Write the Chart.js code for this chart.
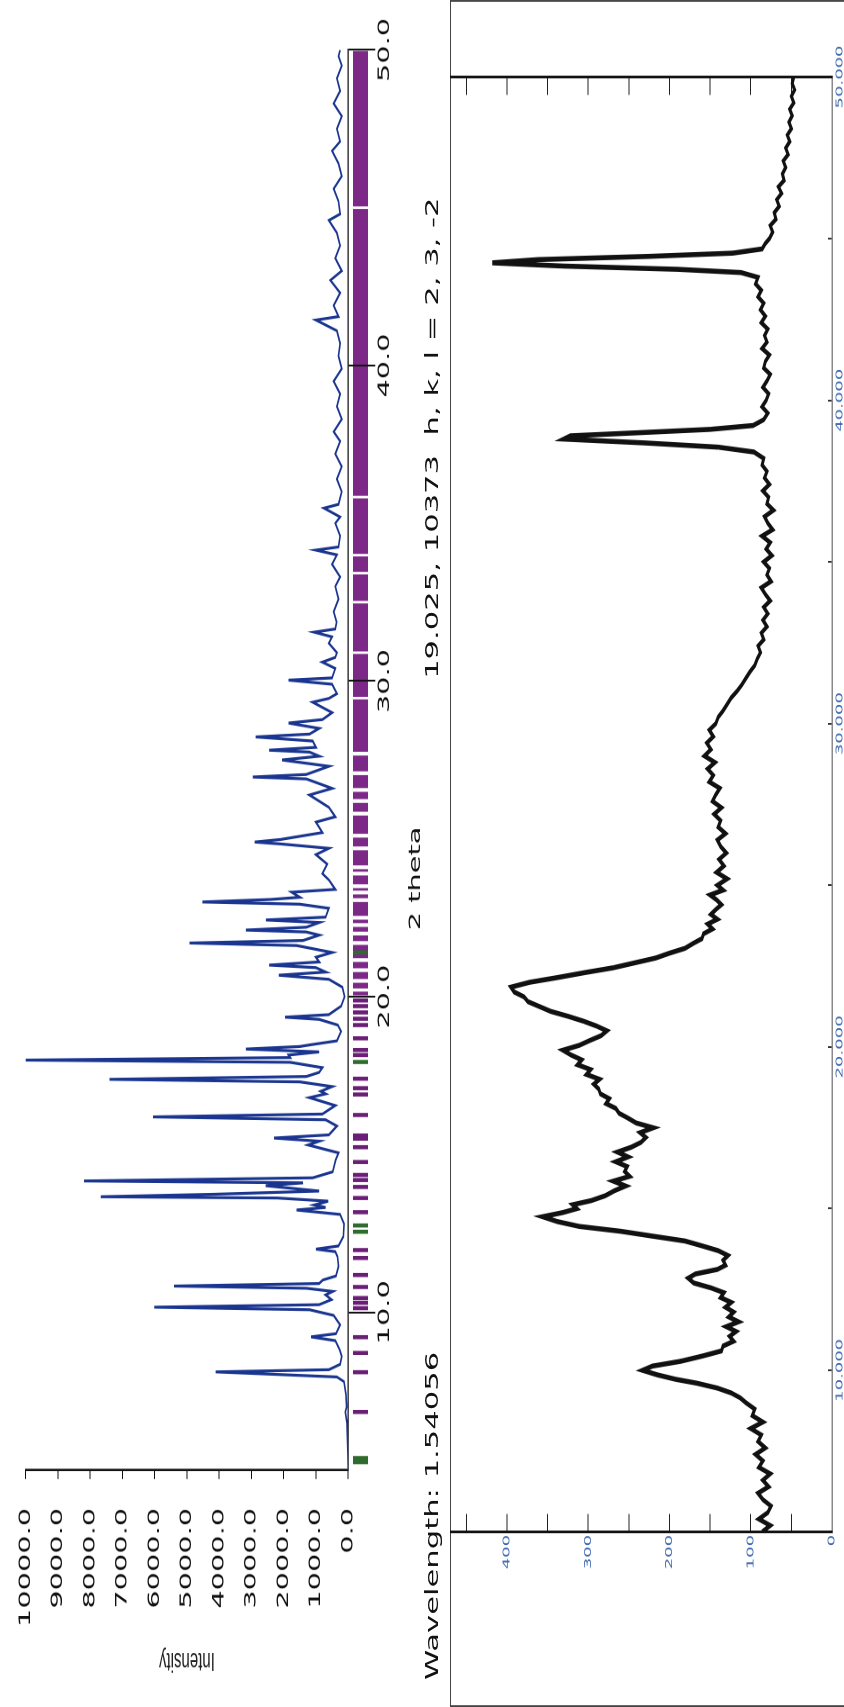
<!DOCTYPE html>
<html lang="en">
<head>
<meta charset="UTF-8">
<script src="https://cdn.jsdelivr.net/npm/chart.js"></script>
<style>
    html, body { margin: 0; padding: 0; background: #fff; }
    body { width: 844px; height: 1707px; overflow: hidden; position: relative; }
    /* the whole sheet is laid out landscape, stretched and turned on its side */
    #sheet {
        position: absolute; left: 0; top: 0;
        width: 948px; height: 844px;
        overflow: hidden;
        transform-origin: 0 0;
        transform: translate(0, 1707px) rotate(-90deg) scaleX(1.8006);
    }
    .panel { position: absolute; left: 0; }
    .panel canvas { display: block; }
    .status {
        position: absolute; top: 424px;
        font: 17px 'DejaVu Sans', sans-serif; line-height: 17px;
        color: #111; white-space: pre;
    }
    #frame {
        position: absolute; left: 0; top: 450px;
        width: 948px; height: 420px; box-sizing: border-box;
        border: 1.6px solid #444; border-bottom: none;
    }
</style>
</head>
<body>
<div id="sheet">
    <div class="panel" style="top:353px"><canvas id="hklStrip" width="948" height="15"></canvas></div>
    <div class="panel" style="top:0"><canvas id="calcChart" width="948" height="448"></canvas></div>
    <div class="status" style="left:15px">Wavelength: 1.54056</div>
    <div class="status" style="left:571px">19.025, 10373  h, k, l = 2, 3, -2</div>
    <div id="frame"></div>
    <div class="panel" style="top:450px"><canvas id="obsChart" width="948" height="394"></canvas></div>
</div>

<script>
// calculated powder pattern: 2theta (deg) and intensity
const calcTheta = [5.00, 5.50, 6.00, 6.50, 6.84, 7.00, 7.40, 7.80, 7.95, 8.04, 8.11, 8.18, 8.35, 8.60, 8.80, 9.10, 9.22, 9.32, 9.60, 9.90,
    10.08, 10.16, 10.24, 10.40, 10.55, 10.66, 10.76, 10.83, 10.91, 11.02, 11.15, 11.45, 11.76, 11.92, 12.00, 12.10, 12.40, 12.80, 13.10, 13.24,
    13.32, 13.40, 13.52, 13.62, 13.66, 13.74, 13.84, 14.01, 14.10, 14.16, 14.26, 14.45, 14.82, 15.05, 15.30, 15.42, 15.52, 15.62, 15.90, 16.10,
    16.19, 16.28, 16.55, 16.80, 16.92, 17.00, 17.15, 17.30, 17.38, 17.47, 17.60, 17.75, 17.92, 17.99, 18.07, 18.15, 18.25, 18.34, 18.42, 18.47,
    18.60, 18.90, 19.10, 19.28, 19.35, 19.43, 19.70, 20.00, 20.30, 20.55, 20.68, 20.78, 20.92, 21.00, 21.10, 21.25, 21.40, 21.62, 21.70, 21.78,
    21.95, 22.05, 22.11, 22.20, 22.35, 22.43, 22.52, 22.80, 22.93, 23.00, 23.08, 23.15, 23.31, 23.40, 23.70, 23.90, 24.20, 24.50, 24.70, 24.84,
    24.90, 24.98, 25.20, 25.53, 25.70, 26.00, 26.39, 26.60, 26.90, 26.96, 27.04, 27.30, 27.50, 27.62, 27.75, 27.81, 27.90, 28.10, 28.23, 28.32,
    28.50, 28.67, 28.78, 29.00, 29.33, 29.45, 29.60, 29.90, 30.03, 30.10, 30.40, 30.60, 30.75, 30.90, 31.20, 31.40, 31.55, 31.65, 31.87, 32.20,
    32.60, 33.00, 33.30, 33.70, 34.00, 34.15, 34.25, 34.60, 35.00, 35.20, 35.48, 35.60, 36.00, 36.40, 36.80, 37.20, 37.60, 37.90, 38.30, 38.70,
    39.10, 39.50, 39.90, 40.30, 40.70, 41.10, 41.44, 41.55, 41.90, 42.30, 42.70, 43.00, 43.40, 43.80, 44.20, 44.60, 44.80, 45.20, 45.60, 46.00,
    46.40, 46.80, 47.10, 47.50, 47.90, 48.30, 48.70, 49.10, 49.50, 49.80, 50.00];
const calcCounts = [0, 10, 25, 40, 90, 50, 70, 130, 350, 2450, 4110, 600, 250, 200, 260, 400, 1150, 380, 250, 450,
    1200, 6010, 900, 520, 700, 480, 1300, 5400, 900, 790, 380, 300, 330, 400, 1000, 300, 150, 130, 250, 1600,
    700, 1050, 620, 2200, 7670, 4110, 900, 2560, 1400, 8190, 1100, 480, 390, 300, 1240, 900, 2300, 600, 350, 700,
    6050, 800, 400, 1200, 700, 850, 500, 1500, 7400, 1300, 900, 800, 1800, 10000, 1800, 1850, 900, 3170, 1500, 1200,
    350, 220, 320, 900, 1960, 600, 220, 110, 180, 600, 2150, 700, 1000, 2450, 900, 1000, 500, 1600, 4920, 1400,
    900, 1300, 3170, 1300, 900, 2550, 700, 600, 1500, 4520, 2400, 1500, 1750, 400, 600, 800, 650, 1000, 600, 2100,
    2900, 2100, 800, 1000, 400, 600, 1200, 500, 1300, 2960, 1300, 600, 2050, 900, 1200, 2450, 1000, 1100, 2870, 1200,
    900, 1850, 800, 500, 1100, 600, 350, 500, 1850, 500, 400, 800, 400, 350, 600, 500, 1050, 400, 360, 450,
    300, 400, 250, 500, 350, 1000, 300, 250, 400, 250, 750, 300, 200, 350, 200, 400, 250, 450, 200, 350,
    250, 450, 200, 300, 250, 350, 1000, 300, 450, 250, 550, 200, 400, 250, 350, 600, 250, 300, 450, 200,
    300, 500, 250, 350, 200, 450, 250, 350, 200, 300, 250];

// reflection positions (2theta) shown in the strip under the axis
const hklPurple = [6.84, 8.10, 8.71, 9.21, 10.13, 10.30, 10.45, 10.80, 11.18, 11.72, 11.97, 13.17, 13.62, 13.97, 14.19, 14.35,
    14.76, 15.23, 15.50, 15.60, 16.25, 16.90, 17.10, 17.40, 18.15, 18.31, 18.68, 19.10, 19.30, 19.50, 19.70, 19.88];
const hklGreen = [5.25, 5.38, 12.55, 12.75, 17.93, 21.40];
// runs where reflections overlap into a solid band
const hklBands = [[20.04, 20.16], [20.26, 20.44], [20.56, 20.78], [20.90, 21.10], [21.22, 21.64], [21.76, 21.94], [22.06, 22.21],
    [22.33, 22.44], [22.56, 23.00], [23.12, 23.24], [23.36, 23.44], [23.56, 23.84], [23.96, 24.04], [24.16, 24.64], [24.76, 25.04],
    [25.16, 25.74], [25.86, 26.14], [26.26, 26.49], [26.61, 27.02], [27.14, 27.64], [27.76, 29.42], [29.50, 30.86], [30.94, 32.46],
    [32.54, 33.38], [33.46, 33.95], [34.03, 35.79], [35.87, 44.96], [45.04, 49.97]];

// measured pattern: 2theta (deg) and counts
const obsTheta = [5.0, 5.2, 5.4, 5.6, 5.8, 6.0, 6.2, 6.4, 6.6, 6.8,
    7.0, 7.2, 7.4, 7.6, 7.8, 8.0, 8.2, 8.4, 8.6, 8.8,
    9.0, 9.15, 9.3, 9.45, 9.6, 9.72, 9.86, 10.0, 10.13, 10.28,
    10.45, 10.6, 10.75, 10.9, 11.05, 11.2, 11.35, 11.5, 11.65, 11.8,
    11.95, 12.1, 12.25, 12.4, 12.55, 12.7, 12.85, 12.98, 13.12, 13.25,
    13.4, 13.55, 13.7, 13.85, 14.0, 14.15, 14.3, 14.45, 14.6, 14.75,
    14.88, 15.0, 15.12, 15.25, 15.4, 15.55, 15.7, 15.85, 16.0, 16.15,
    16.3, 16.45, 16.6, 16.75, 16.9, 17.05, 17.2, 17.35, 17.5, 17.65,
    17.8, 17.95, 18.1, 18.25, 18.4, 18.55, 18.7, 18.85, 19.0, 19.15,
    19.3, 19.45, 19.6, 19.75, 19.9, 20.05, 20.2, 20.35, 20.5, 20.65,
    20.8, 20.95, 21.1, 21.25, 21.4, 21.55, 21.7, 21.85, 22.0, 22.15,
    22.3, 22.45, 22.6, 22.75, 22.9, 23.05, 23.2, 23.35, 23.5, 23.65,
    23.8, 23.95, 24.1, 24.25, 24.4, 24.55, 24.7, 24.85, 25.0, 25.2,
    25.4, 25.6, 25.8, 26.0, 26.2, 26.4, 26.6, 26.8, 27.0, 27.2,
    27.4, 27.6, 27.8, 28.0, 28.2, 28.4, 28.6, 28.8, 29.0, 29.2,
    29.4, 29.6, 29.8, 30.0, 30.2, 30.4, 30.6, 30.8, 31.0, 31.2,
    31.4, 31.6, 31.8, 32.0, 32.2, 32.4, 32.6, 32.8, 33.0, 33.2,
    33.4, 33.6, 33.8, 34.0, 34.2, 34.4, 34.6, 34.8, 35.0, 35.2,
    35.4, 35.6, 35.8, 36.0, 36.2, 36.4, 36.6, 36.8, 37.0, 37.2,
    37.4, 37.6, 37.8, 38.0, 38.2, 38.4, 38.55, 38.68, 38.8, 38.9,
    39.0, 39.1, 39.22, 39.4, 39.6, 39.8, 40.0, 40.2, 40.4, 40.6,
    40.8, 41.0, 41.2, 41.4, 41.6, 41.8, 42.0, 42.2, 42.4, 42.6,
    42.8, 43.0, 43.2, 43.4, 43.6, 43.8, 43.95, 44.05, 44.15, 44.25,
    44.35, 44.45, 44.55, 44.68, 44.85, 45.0, 45.2, 45.4, 45.6, 45.8,
    46.0, 46.2, 46.4, 46.6, 46.8, 47.0, 47.2, 47.4, 47.6, 47.8,
    48.0, 48.2, 48.4, 48.6, 48.8, 49.0, 49.2, 49.4, 49.6, 49.8,
    50.0];
const obsCounts = [86, 76, 90, 79, 75, 85, 91, 78, 85, 76,
    90, 85, 94, 82, 91, 87, 100, 85, 98, 95,
    106, 113, 124, 141, 166, 192, 215, 233, 221, 186,
    158, 136, 134, 121, 126, 118, 130, 115, 127, 121,
    131, 124, 137, 133, 149, 170, 177, 168, 141, 131,
    134, 128, 140, 160, 181, 221, 260, 311, 338, 356,
    331, 314, 319, 296, 279, 268, 254, 269, 249, 255,
    252, 266, 251, 264, 247, 235, 229, 236, 220, 241,
    251, 262, 266, 278, 274, 285, 287, 293, 286, 302,
    297, 313, 308, 321, 331, 311, 298, 284, 277, 290,
    306, 325, 346, 360, 374, 379, 391, 395, 372, 337,
    304, 269, 243, 217, 200, 181, 171, 160, 158, 147,
    153, 141, 149, 143, 136, 142, 150, 134, 141, 129,
    142, 133, 139, 130, 137, 141, 131, 140, 137, 145,
    136, 147, 143, 138, 151, 146, 153, 144, 157, 149,
    154, 146, 151, 143, 140, 134, 129, 124, 117, 111,
    106, 101, 95, 92, 88, 91, 84, 87, 80, 85,
    79, 84, 76, 82, 87, 75, 80, 77, 84, 74,
    81, 76, 86, 73, 79, 83, 72, 80, 78, 85,
    77, 83, 80, 86, 84, 96, 140, 230, 330, 322,
    235, 150, 97, 84, 79, 86, 81, 78, 85, 80,
    76, 84, 82, 77, 86, 80, 83, 79, 87, 82,
    88, 84, 91, 87, 94, 91, 112, 190, 330, 418,
    362, 225, 122, 86, 82, 77, 73, 76, 69, 71,
    65, 68, 62, 66, 59, 61, 57, 60, 54, 57,
    52, 55, 50, 53, 49, 52, 47, 50, 46, 49,
    47];

// strip drawing: marks sit on the middle of a hidden 0..1 axis, each mark MARK_W degrees wide
const MARK_Y = 0.5;
const MARK_W = 0.13;

const toPoints = (xs, ys) => xs.map((x, i) => ({x: x, y: ys[i]}));

// each reflection becomes a short thick segment; nulls break the line between them
function stripSegments(ranges) {
    const pts = [];
    ranges.forEach(([a, b]) => {
        pts.push({x: a, y: MARK_Y}, {x: b, y: MARK_Y}, {x: b, y: null});
    });
    return pts;
}
const asRanges = list => list.map(t => [t - MARK_W / 2, t + MARK_W / 2]);

const stripStyle = {
    borderWidth: 15,
    borderCapStyle: 'butt',
    pointRadius: 0,
    spanGaps: false
};

// reflection marks under the calculated pattern
new Chart(document.getElementById('hklStrip'), {
    type: 'line',
    data: {
        datasets: [
            Object.assign({data: stripSegments(asRanges(hklGreen)), borderColor: '#2f6b2c'}, stripStyle),
            Object.assign({data: stripSegments(asRanges(hklPurple)), borderColor: '#6a1e76'}, stripStyle),
            Object.assign({data: stripSegments(hklBands), borderColor: '#7b2886'}, stripStyle)
        ]
    },
    options: {
        responsive: false,
        devicePixelRatio: 2,
        animation: false,
        layout: {padding: {top: 0, right: 27.7, bottom: 0, left: 131.6}},
        scales: {
            x: {type: 'linear', min: 5, max: 50, display: false},
            y: {min: 0, max: 1, display: false}
        },
        plugins: {legend: {display: false}, tooltip: {enabled: false}}
    }
});

const tickFont = {family: 'DejaVu Sans', size: 16};

new Chart(document.getElementById('calcChart'), {
    type: 'line',
    data: {
        datasets: [{
            data: toPoints(calcTheta, calcCounts),
            borderColor: '#1a3590',
            borderWidth: 1.6,
            pointRadius: 0,
            tension: 0
        }]
    },
    options: {
        responsive: false,
        devicePixelRatio: 2,
        animation: false,
        layout: {padding: {top: 17, right: 27.7, bottom: 22.8, left: 0}},
        scales: {
            x: {
                type: 'linear',
                min: 5,
                max: 50,
                grid: {drawOnChartArea: false, tickLength: 27, tickColor: '#111'},
                border: {color: '#111', width: 1.3},
                ticks: {
                    stepSize: 10,
                    includeBounds: false,
                    autoSkip: false,
                    maxRotation: 0,
                    padding: 0,
                    color: '#111',
                    font: tickFont,
                    callback: v => v.toFixed(1)
                },
                afterFit: s => { s.height = 57.8; }
            },
            y: {
                min: 0,
                max: 10000,
                grid: {drawOnChartArea: false, tickLength: 5, tickColor: '#111'},
                border: {color: '#111', width: 1.3},
                ticks: {
                    stepSize: 1000,
                    autoSkip: false,
                    padding: 16,
                    color: '#111',
                    font: tickFont,
                    callback: v => v.toFixed(1)
                },
                title: {
                    display: true,
                    text: 'Intensity',
                    color: '#222',
                    font: {family: 'Liberation Sans', size: 15},
                    padding: {top: 17, bottom: 0}
                },
                afterFit: s => { s.width = 131.6; }
            }
        },
        plugins: {
            legend: {display: false},
            tooltip: {enabled: false},
            title: {
                display: true,
                text: '2 theta',
                position: 'bottom',
                color: '#111',
                font: {family: 'DejaVu Sans', size: 16, weight: 'normal'},
                padding: 0
            }
        }
    }
});

const smallFont = {family: 'DejaVu Sans', size: 10};
const noPad = s => { s.paddingTop = 0; s.paddingBottom = 0; };

new Chart(document.getElementById('obsChart'), {
    type: 'line',
    data: {
        datasets: [{
            data: toPoints(obsTheta, obsCounts),
            borderColor: '#111',
            borderWidth: 2.8,
            pointRadius: 0,
            tension: 0
        }]
    },
    options: {
        responsive: false,
        devicePixelRatio: 2,
        animation: false,
        layout: {padding: 0},
        scales: {
            x: {
                type: 'linear',
                min: 5,
                max: 50,
                grid: {drawOnChartArea: false, tickLength: -4, tickColor: '#333'},
                border: {color: '#8a8a8a', width: 1.5},
                ticks: {
                    stepSize: 5,
                    autoSkip: false,
                    maxRotation: 0,
                    padding: 6,
                    color: '#3d68b0',
                    font: smallFont,
                    callback: v => (v % 10 === 0 ? v.toFixed(3) : '')
                },
                afterFit: s => { s.height = 12; }
            },
            y: {
                min: 0,
                max: 470,
                grid: {drawOnChartArea: false, tickLength: -10, tickColor: '#222'},
                border: {color: '#111', width: 1.5},
                ticks: {
                    stepSize: 50,
                    includeBounds: false,
                    autoSkip: false,
                    padding: 11.6,
                    color: '#3d68b0',
                    font: smallFont,
                    callback: v => (v % 100 === 0 ? String(v) : '')
                },
                afterFit: s => { s.width = 97.2; noPad(s); }
            },
            yRight: {
                axis: 'y',
                position: 'right',
                min: 0,
                max: 470,
                grid: {drawOnChartArea: false, tickLength: -10, tickColor: '#222'},
                border: {color: '#111', width: 1.5},
                ticks: {stepSize: 50, includeBounds: false, autoSkip: false, display: false},
                afterFit: s => { s.width = 42.7; noPad(s); }
            }
        },
        plugins: {
            legend: {display: false},
            tooltip: {enabled: false}
        }
    }
});
</script>
</body>
</html>
